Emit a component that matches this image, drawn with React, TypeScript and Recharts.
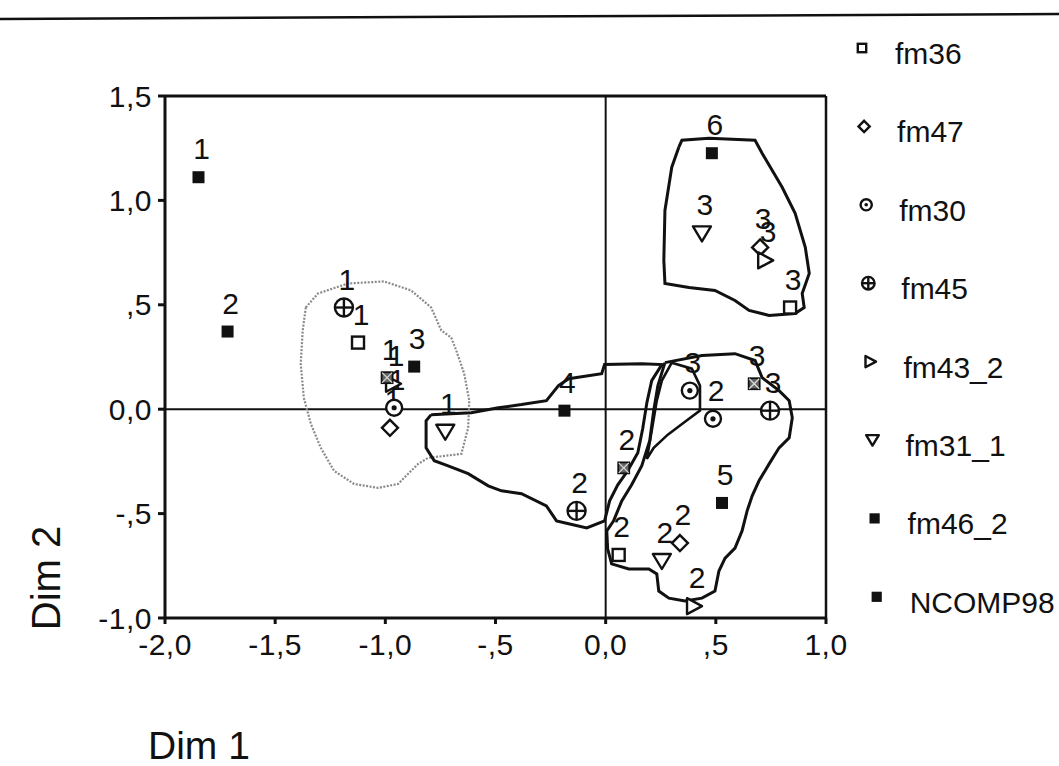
import React from "react";
import { ScatterChart, Scatter, XAxis, YAxis, ReferenceLine } from "recharts";

const FONT = '"Liberation Sans", Arial, Helvetica, sans-serif';
const INK = "#111";

// category points per variable (x = Dim 1, y = Dim 2, lab = category code)
const fm36 = [
  { x: -1.124, y: 0.319, lab: "1" },
  { x: 0.059, y: -0.698, lab: "2" },
  { x: 0.837, y: 0.487, lab: "3" },
];
const fm47 = [
  { x: -0.979, y: -0.089, lab: "1" },
  { x: 0.337, y: -0.641, lab: "2" },
  { x: 0.701, y: 0.775, lab: "3" },
];
const fm30 = [
  { x: -0.96, y: 0.007, lab: "1" },
  { x: 0.487, y: -0.046, lab: "2" },
  { x: 0.382, y: 0.089, lab: "3" },
];
const fm45 = [
  { x: -1.188, y: 0.487, lab: "1" },
  { x: -0.132, y: -0.487, lab: "2" },
  { x: 0.746, y: -0.007, lab: "3" },
];
const fm43_2 = [
  { x: -0.965, y: 0.122, lab: "1" },
  { x: 0.401, y: -0.943, lab: "2" },
  { x: 0.724, y: 0.713, lab: "3" },
];
const fm31_1 = [
  { x: -0.728, y: -0.108, lab: "1" },
  { x: 0.255, y: -0.727, lab: "2" },
  { x: 0.437, y: 0.842, lab: "3" },
];
const fm46_2 = [
  { x: -0.992, y: 0.151, lab: "1" },
  { x: 0.082, y: -0.281, lab: "2" },
  { x: 0.674, y: 0.122, lab: "3" },
];
const ncomp98 = [
  { x: -1.848, y: 1.111, lab: "1" },
  { x: -1.716, y: 0.372, lab: "2" },
  { x: -0.869, y: 0.204, lab: "3" },
  { x: -0.187, y: -0.007, lab: "4" },
  { x: 0.528, y: -0.449, lab: "5" },
  { x: 0.482, y: 1.226, lab: "6" },
];

// hand-drawn cluster outlines, in Dim 1 / Dim 2 units
const hullLeft = [
  [-1.361, 0.487], [-1.306, 0.554], [-1.17, 0.602], [-1.006, 0.612], [-0.883, 0.569],
  [-0.792, 0.487], [-0.746, 0.377], [-0.701, 0.343], [-0.678, 0.281], [-0.642, 0.17],
  [-0.619, 0.041], [-0.624, -0.089], [-0.655, -0.214], [-0.806, -0.233], [-0.851, -0.262],
  [-0.897, -0.31], [-0.942, -0.358], [-1.033, -0.377], [-1.142, -0.358], [-1.233, -0.295],
  [-1.293, -0.185], [-1.338, -0.07], [-1.37, 0.055], [-1.384, 0.218], [-1.375, 0.377],
  [-1.361, 0.487],
];
const hullTail = [
  [-0.792, -0.026], [-0.61, -0.017], [-0.487, 0.007], [-0.382, 0.022], [-0.269, 0.041],
  [-0.214, 0.113], [-0.168, 0.146], [-0.018, 0.17], [-0.005, 0.214], [0.164, 0.218],
  [0.255, 0.214], [0.209, 0.137], [0.187, 0.031], [0.168, -0.094], [0.146, -0.209],
  [0.1, -0.295], [0.055, -0.362], [0.018, -0.439], [-0.005, -0.535], [-0.086, -0.569],
  [-0.168, -0.549], [-0.223, -0.535], [-0.269, -0.463], [-0.382, -0.405], [-0.473, -0.391],
  [-0.533, -0.367], [-0.624, -0.309], [-0.715, -0.271], [-0.778, -0.247], [-0.815, -0.185],
  [-0.815, -0.055], [-0.792, -0.026],
];
const hullRight = [
  [0.269, 0.223], [0.437, 0.257], [0.587, 0.266], [0.678, 0.233], [0.71, 0.151],
  [0.787, 0.089], [0.833, 0.041], [0.847, -0.041], [0.833, -0.137], [0.787, -0.185],
  [0.742, -0.262], [0.696, -0.343], [0.665, -0.415], [0.642, -0.487], [0.619, -0.583],
  [0.587, -0.665], [0.542, -0.713], [0.514, -0.775], [0.496, -0.871], [0.437, -0.905],
  [0.36, -0.919], [0.287, -0.905], [0.241, -0.871], [0.232, -0.789], [0.196, -0.765],
  [0.105, -0.765], [0.027, -0.741], [0.009, -0.669], [0.005, -0.583], [0.036, -0.535],
  [0.073, -0.439], [0.118, -0.362], [0.164, -0.271], [0.2, -0.151], [0.218, -0.007],
  [0.237, 0.113], [0.269, 0.223],
];
const hullLeaf = [
  [0.3, 0.223], [0.391, 0.194], [0.428, 0.113], [0.428, -0.007], [0.36, -0.06],
  [0.282, -0.122], [0.218, -0.185], [0.187, -0.238], [0.209, -0.103], [0.232, 0.041],
  [0.255, 0.137], [0.3, 0.223],
];
const hullTop = [
  [0.332, 1.255], [0.346, 1.288], [0.469, 1.298], [0.678, 1.288], [0.71, 1.226],
  [0.801, 1.063], [0.86, 0.938], [0.906, 0.775], [0.924, 0.65], [0.892, 0.554],
  [0.901, 0.487], [0.86, 0.458], [0.742, 0.449], [0.651, 0.473], [0.587, 0.521],
  [0.496, 0.569], [0.378, 0.583], [0.269, 0.602], [0.264, 0.713], [0.269, 0.952],
  [0.3, 1.159], [0.332, 1.255],
];

const xTicks = [-2, -1.5, -1, -0.5, 0, 0.5, 1];
const yTicks = [-1, -0.5, 0, 0.5, 1, 1.5];

const legendItems = [
  { name: "fm36", kind: "square" },
  { name: "fm47", kind: "diamond" },
  { name: "fm30", kind: "ring" },
  { name: "fm45", kind: "cross" },
  { name: "fm43_2", kind: "triRight" },
  { name: "fm31_1", kind: "triDown" },
  { name: "fm46_2", kind: "filled" },
  { name: "NCOMP98", kind: "filled" },
];

// SPSS style numbers: comma decimal, no leading zero
const fmt = (v: number) => {
  if (v === 0) return "0,0";
  let s = Math.abs(v).toFixed(1).replace(".", ",");
  if (Math.abs(v) < 1) s = s.slice(1);
  return (v < 0 ? "-" : "") + s;
};

const toPts = (arr: number[][]) => arr.map(([x, y]) => ({ x, y }));

function Marker({ kind, cx, cy, s = 1 }: { kind: string; cx: number; cy: number; s?: number }) {
  const sw = 2.4;
  switch (kind) {
    case "square":
      return <rect x={cx - 6 * s} y={cy - 6 * s} width={12 * s} height={12 * s} fill="#fff" stroke={INK} strokeWidth={sw} />;
    case "diamond":
      return (
        <polygon
          points={`${cx},${cy - 8 * s} ${cx + 8 * s},${cy} ${cx},${cy + 8 * s} ${cx - 8 * s},${cy}`}
          fill="#fff" stroke={INK} strokeWidth={sw} />
      );
    case "ring":
      return (
        <g>
          <circle cx={cx} cy={cy} r={8 * s} fill="#fff" stroke={INK} strokeWidth={sw} />
          <circle cx={cx} cy={cy} r={2.6 * s} fill={INK} />
        </g>
      );
    case "cross":
      return (
        <g>
          <circle cx={cx} cy={cy} r={9 * s} fill="#fff" stroke={INK} strokeWidth={sw} />
          <line x1={cx - 9 * s} y1={cy} x2={cx + 9 * s} y2={cy} stroke={INK} strokeWidth={sw} />
          <line x1={cx} y1={cy - 9 * s} x2={cx} y2={cy + 9 * s} stroke={INK} strokeWidth={sw} />
        </g>
      );
    case "triRight":
      return (
        <polygon
          points={`${cx - 7 * s},${cy - 8 * s} ${cx + 8 * s},${cy} ${cx - 7 * s},${cy + 8 * s}`}
          fill="#fff" stroke={INK} strokeWidth={sw} strokeLinejoin="round" />
      );
    case "triDown":
      return (
        <polygon
          points={`${cx - 9 * s},${cy - 7 * s} ${cx + 9 * s},${cy - 7 * s} ${cx},${cy + 8 * s}`}
          fill="#fff" stroke={INK} strokeWidth={sw} strokeLinejoin="round" />
      );
    case "hatched":
      return (
        <g>
          <rect x={cx - 5.5} y={cy - 5.5} width={11} height={11} fill="#666" stroke={INK} strokeWidth={1.8} />
          <line x1={cx - 5} y1={cy - 5} x2={cx + 5} y2={cy + 5} stroke="#ddd" strokeWidth={1.2} />
          <line x1={cx + 5} y1={cy - 5} x2={cx - 5} y2={cy + 5} stroke="#ddd" strokeWidth={1.2} />
        </g>
      );
    default:
      return <rect x={cx - 6 * s} y={cy - 6 * s} width={12 * s} height={12 * s} fill={INK} />;
  }
}

const pointShape = (kind: string) => (props: any) => {
  const { cx, cy, payload } = props;
  return (
    <g>
      <Marker kind={kind} cx={cx} cy={cy} />
      <text x={cx + 3} y={cy - 18} textAnchor="middle" fontSize={30} fontFamily={FONT} fill={INK}>
        {payload.lab}
      </text>
    </g>
  );
};

const noShape = () => <g />;

const series = [
  { data: fm36, kind: "square" },
  { data: fm47, kind: "diamond" },
  { data: fm30, kind: "ring" },
  { data: fm45, kind: "cross" },
  { data: fm43_2, kind: "triRight" },
  { data: fm31_1, kind: "triDown" },
  { data: fm46_2, kind: "hatched" },
  { data: ncomp98, kind: "filled" },
];

const outlines = [
  { data: hullLeft, stroke: "#8a8a8a", width: 2.2, dash: "2 1.5" },
  { data: hullTail, stroke: INK, width: 3, dash: undefined },
  { data: hullRight, stroke: INK, width: 3, dash: undefined },
  { data: hullLeaf, stroke: INK, width: 2.6, dash: undefined },
  { data: hullTop, stroke: INK, width: 3, dash: undefined },
];

export default function App() {
  const tickStyle = { fontSize: 30, fill: INK, fontFamily: FONT, letterSpacing: 0.5 };
  return (
    <div style={{ position: "absolute", left: 0, top: 0, width: 1059, height: 766, background: "#fff" }}>
      <ScatterChart width={1059} height={766} margin={{ top: 96, right: 233, bottom: 108, left: 100 }}>
        <XAxis
          type="number"
          dataKey="x"
          domain={[-2, 1]}
          ticks={xTicks}
          tickFormatter={fmt}
          height={40}
          tick={tickStyle}
          tickSize={6}
          tickMargin={10}
          axisLine={{ stroke: INK, strokeWidth: 3 }}
          tickLine={{ stroke: INK, strokeWidth: 3 }}
          allowDataOverflow
        />
        <YAxis
          type="number"
          dataKey="y"
          domain={[-1, 1.5]}
          ticks={yTicks}
          tickFormatter={fmt}
          width={65}
          tick={tickStyle}
          tickSize={7}
          tickMargin={6}
          axisLine={{ stroke: INK, strokeWidth: 3 }}
          tickLine={{ stroke: INK, strokeWidth: 3 }}
          allowDataOverflow
        />
        <ReferenceLine y={1.5} stroke={INK} strokeWidth={3} />
        <ReferenceLine x={1} stroke={INK} strokeWidth={2.5} />
        <ReferenceLine y={0} stroke={INK} strokeWidth={2} />
        <ReferenceLine x={0} stroke={INK} strokeWidth={2} />
        {outlines.map((o, i) => (
          <Scatter
            key={`hull-${i}`}
            data={toPts(o.data)}
            line={{ stroke: o.stroke, strokeWidth: o.width, strokeDasharray: o.dash, fill: "none" }}
            lineType="joint"
            shape={noShape}
            legendType="none"
            isAnimationActive={false}
          />
        ))}
        {series.map((s, i) => (
          <Scatter
            key={`pts-${i}`}
            data={s.data}
            shape={pointShape(s.kind)}
            isAnimationActive={false}
          />
        ))}
      </ScatterChart>

      <svg
        width={1059}
        height={766}
        style={{ position: "absolute", left: 0, top: 0, pointerEvents: "none" }}
      >
        <line x1={0} y1={19} x2={1059} y2={14} stroke={INK} strokeWidth={2.5} />
        {legendItems.map((it, i) => {
          const mx = 862 + i * 2.1;
          const my = 48 + i * 78.4;
          return (
            <g key={it.name}>
              <Marker kind={it.kind} cx={mx} cy={my} s={it.kind === "filled" ? 0.85 : 0.7} />
              <text x={mx + 33} y={my + 16} fontSize={30} fontFamily={FONT} fill={INK}>
                {it.name}
              </text>
            </g>
          );
        })}
        <text x={148} y={759} fontSize={39} fontFamily={FONT} fill={INK}>
          Dim 1
        </text>
        <text
          transform="translate(60,578) rotate(-90)"
          textAnchor="middle"
          fontSize={40}
          fontFamily={FONT}
          fill={INK}
        >
          Dim 2
        </text>
      </svg>
    </div>
  );
}
